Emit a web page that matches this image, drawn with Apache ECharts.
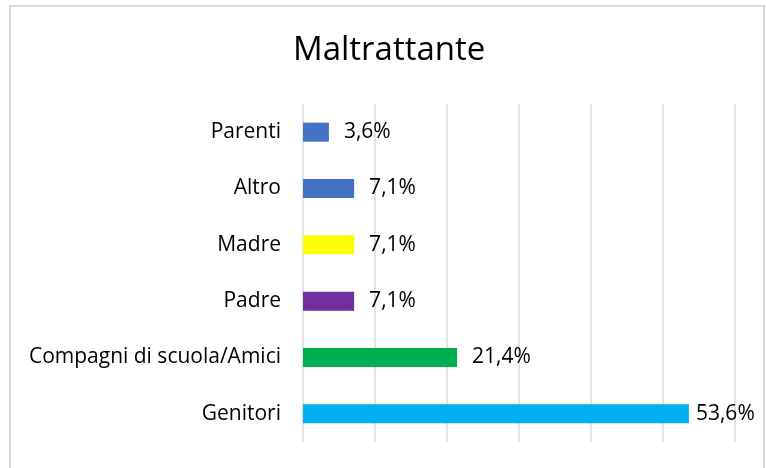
<!DOCTYPE html>
<html>
<head>
<meta charset="utf-8">
<script src="https://cdn.jsdelivr.net/npm/echarts@6/dist/echarts.min.js"></script>
<style>
html,body{margin:0;padding:0;background:#fff;}
#c{width:766px;height:468px;}
</style>
</head>
<body>
<div id="c"></div>
<script>
var titleText = 'Maltrattante';
var categories = ['Parenti', 'Altro', 'Madre', 'Padre', 'Compagni di scuola/Amici', 'Genitori'];
var values = [3.6, 7.1, 7.1, 7.1, 21.4, 53.6];
var colors = ['#4472C4', '#4472C4', '#FFFF00', '#7030A0', '#00B050', '#00B0F0'];

var FONT = 'Open Sans';
var chart = echarts.init(document.getElementById('c'), null, {renderer: 'canvas'});
chart.setOption({
  animation: false,
  backgroundColor: '#fff',
  title: {
    text: titleText,
    left: 288,
    top: 29,
    textStyle: {fontFamily: FONT, fontSize: 33, fontWeight: 'normal', color: '#000'}
  },
  graphic: [{
    type: 'rect',
    shape: {x: 10, y: 6, width: 754, height: 470},
    style: {fill: 'none', stroke: '#d9d9d9', lineWidth: 2},
    silent: true
  }],
  grid: {left: 303, right: 31, top: 104, bottom: 26, containLabel: false},
  xAxis: {
    type: 'value', min: 0, max: 60, interval: 10,
    axisLabel: {show: false}, axisLine: {show: false}, axisTick: {show: false},
    splitLine: {show: true, lineStyle: {color: '#d9d9d9', width: 1.5}}
  },
  yAxis: {
    type: 'category', data: categories, inverse: true,
    axisLine: {show: false}, axisTick: {show: false},
    axisLabel: {fontFamily: FONT, fontSize: 21, color: '#000', margin: 22}
  },
  series: [{
    type: 'bar',
    data: values.map(function (v, i) {
      return {value: v, itemStyle: {color: colors[i]}, label: {distance: v > 50 ? 7 : 15}};
    }),
    barWidth: 19,
    label: {
      show: true, position: 'right',
      fontFamily: FONT, fontSize: 21, color: '#000',
      formatter: function (p) { return p.value.toFixed(1).replace('.', ',') + '%'; }
    }
  }]
});
</script>
</body>
</html>
